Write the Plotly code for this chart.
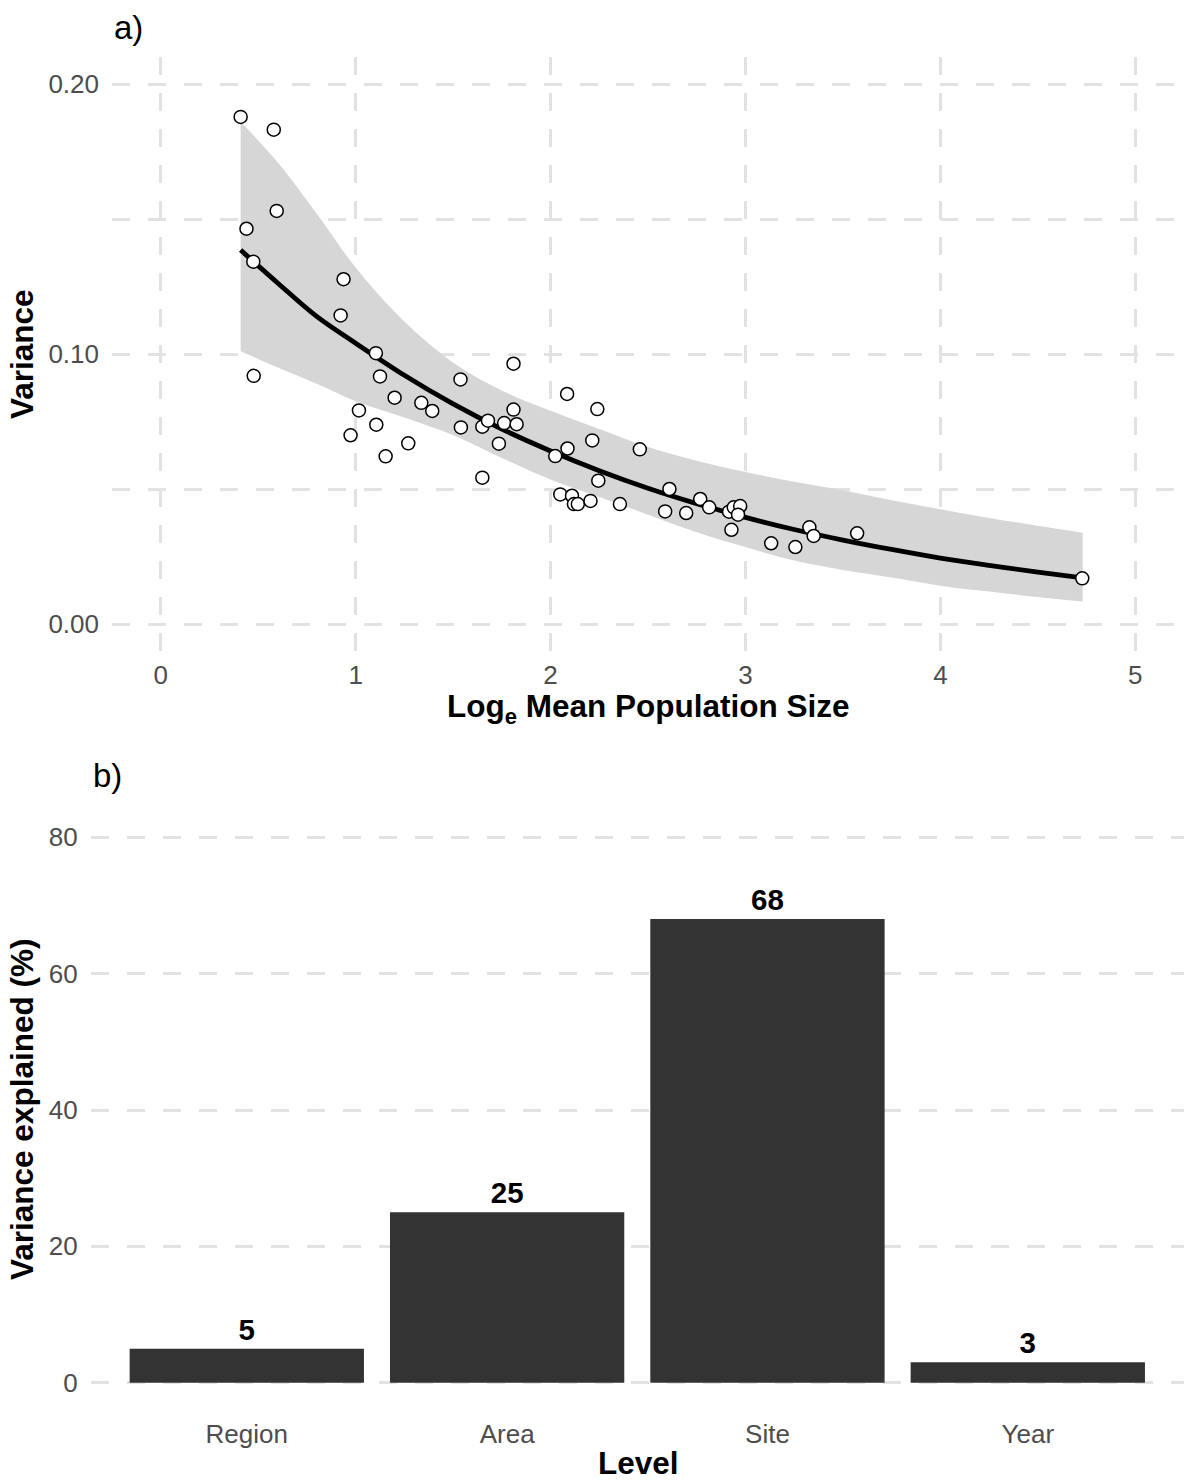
import plotly.graph_objects as go

# ---- panel a: variance vs log mean population size ----
log_mean_size = [0.41, 0.58, 0.595, 0.44, 0.475, 0.477, 0.938, 0.923, 1.104, 1.125,
                 1.20, 1.017, 1.337, 1.393, 1.106, 0.974, 1.27, 1.154, 1.538, 1.54,
                 1.65, 1.679, 1.65, 1.735, 1.762, 1.81, 1.826, 1.81, 2.085, 2.24,
                 2.087, 2.024, 2.214, 2.458, 2.245, 2.05, 2.11, 2.12, 2.14, 2.205,
                 2.356, 2.61, 2.588, 2.696, 2.768, 2.814, 2.916, 2.94, 2.973, 2.962,
                 2.928, 3.132, 3.256, 3.328, 3.35, 3.573, 4.728]
variance = [0.1878, 0.1831, 0.153, 0.1464, 0.1342, 0.0919, 0.1277, 0.1143, 0.1003, 0.0917,
            0.0838, 0.0791, 0.0819, 0.0789, 0.0738, 0.0699, 0.0669, 0.0621, 0.0906, 0.0728,
            0.0731, 0.0753, 0.0542, 0.0668, 0.0744, 0.0794, 0.0740, 0.0964, 0.0852, 0.0796,
            0.0650, 0.0622, 0.0680, 0.0647, 0.0531, 0.0480, 0.0475, 0.0444, 0.0444, 0.0456,
            0.0444, 0.0500, 0.0417, 0.0411, 0.0463, 0.0432, 0.0416, 0.0432, 0.0437, 0.0405,
            0.0349, 0.0299, 0.0285, 0.0358, 0.0326, 0.0336, 0.0169]

# fitted trend with its confidence band
fit_x = [0.41, 0.6, 0.8, 1.0, 1.25, 1.5, 1.75, 2.0, 2.25, 2.5, 2.75, 3.0,
         3.25, 3.5, 3.75, 4.0, 4.25, 4.5, 4.73]
fit_y = [0.1385, 0.1263, 0.1139, 0.104, 0.0921, 0.0815, 0.0722, 0.0641, 0.0568, 0.0503,
         0.0446, 0.0395, 0.035, 0.0311, 0.0276, 0.0244, 0.0217, 0.0192, 0.0171]
fit_upper = [0.186, 0.171, 0.152, 0.132, 0.112, 0.0968, 0.0865, 0.079, 0.0722, 0.0656,
             0.0605, 0.0563, 0.0527, 0.0495, 0.0458, 0.0425, 0.0393, 0.0364, 0.0338]
fit_lower = [0.101, 0.095, 0.089, 0.0825, 0.0765, 0.070, 0.0615, 0.0535, 0.047, 0.0405,
             0.034, 0.0285, 0.0235, 0.020, 0.0172, 0.0142, 0.012, 0.010, 0.0083]

x_ticks = [0, 1, 2, 3, 4, 5]
y_ticks_a = [0.0, 0.10, 0.20]
y_labels_a = ["0.00", "0.10", "0.20"]
y_minor_a = [0.05, 0.15]

# ---- panel b: variance partitioned by level ----
levels = ["Region", "Area", "Site", "Year"]
pct_explained = [5, 25, 68, 3]
y_ticks_b = [0, 20, 40, 60, 80]

FONT = "Liberation Sans, Arial, sans-serif"
TICK_FONT = dict(family=FONT, size=26, color="#4D4D4D")
GRID = "#E2E2E2"
DASH = "18px,18px"
W, H = 1184, 1482

fig = go.Figure()

fig.add_trace(go.Scatter(x=fit_x, y=fit_lower, mode="lines", line=dict(width=0, shape="spline"),
                         hoverinfo="skip", showlegend=False, xaxis="x", yaxis="y"))
fig.add_trace(go.Scatter(x=fit_x, y=fit_upper, mode="lines", line=dict(width=0, shape="spline"),
                         fill="tonexty", fillcolor="#D6D6D6", hoverinfo="skip",
                         showlegend=False, xaxis="x", yaxis="y"))
fig.add_trace(go.Scatter(x=fit_x, y=fit_y, mode="lines",
                         line=dict(color="black", width=4.8, shape="spline"),
                         showlegend=False, xaxis="x", yaxis="y"))
fig.add_trace(go.Scatter(x=log_mean_size, y=variance, mode="markers",
                         marker=dict(size=13, color="white", line=dict(color="black", width=1.5)),
                         showlegend=False, xaxis="x", yaxis="y"))

fig.add_trace(go.Bar(x=levels, y=pct_explained, marker=dict(color="#333333", line=dict(width=0)),
                     text=[str(v) for v in pct_explained], textposition="outside",
                     textfont=dict(family=FONT, size=29.5, color="black", weight="bold"),
                     cliponaxis=False, showlegend=False, xaxis="x2", yaxis="y2"))


def px_x(p):
    return p / W


def px_y(p):
    return 1 - p / H


grid_common = dict(showgrid=True, gridcolor=GRID, gridwidth=3, griddash=DASH,
                   zeroline=False, showline=False, ticks="", tickfont=TICK_FONT)

fig.update_layout(
    width=W, height=H,
    margin=dict(l=0, r=0, t=0, b=0),
    paper_bgcolor="white", plot_bgcolor="white",
    bargap=0.1,
    xaxis=dict(domain=[px_x(112), 1.0], range=[-0.25, 5.25], tickvals=x_ticks,
               ticktext=[str(v) for v in x_ticks], anchor="y", ticklabelstandoff=6,
               **grid_common),
    yaxis=dict(domain=[px_y(651), px_y(57)], range=[-0.01, 0.21], tickvals=y_ticks_a,
               ticktext=y_labels_a, anchor="x", ticklabelstandoff=12,
               minor=dict(tickvals=y_minor_a, showgrid=True, gridcolor=GRID, gridwidth=3,
                          griddash=DASH, ticks=""),
               **grid_common),
    xaxis2=dict(domain=[px_x(90.6), 1.0], range=[-0.6, 3.6], type="category",
                anchor="y2", ticklabelstandoff=6,
                **{**grid_common, "showgrid": False}),
    yaxis2=dict(domain=[px_y(1410), px_y(810)], range=[-4, 84], tickvals=y_ticks_b,
                ticktext=[str(v) for v in y_ticks_b], anchor="x2", ticklabelstandoff=12,
                **grid_common),
)

title_font = dict(family=FONT, size=31.5, color="black", weight="bold")
panel_font = dict(family=FONT, size=33, color="black")
annotations = [
    dict(text="a)", x=px_x(112), y=px_y(28), xanchor="left", yanchor="middle", font=panel_font),
    dict(text="b)", x=px_x(90.6), y=px_y(776), xanchor="left", yanchor="middle", font=panel_font),
    dict(text="Variance", x=px_x(22), y=px_y(354), textangle=-90, xanchor="center",
         yanchor="middle", font=title_font),
    dict(text="Variance explained (%)", x=px_x(22), y=px_y(1110), textangle=-90,
         xanchor="center", yanchor="middle", font=title_font),
    dict(text="Log<sub>e</sub> Mean Population Size", x=px_x(648), y=px_y(708),
         xanchor="center", yanchor="middle", font=title_font),
    dict(text="Level", x=px_x(638), y=px_y(1463), xanchor="center", yanchor="middle",
         font=title_font),
]
for a in annotations:
    a.update(xref="paper", yref="paper", showarrow=False)
fig.update_layout(annotations=annotations)

fig.write_html("out.html")
